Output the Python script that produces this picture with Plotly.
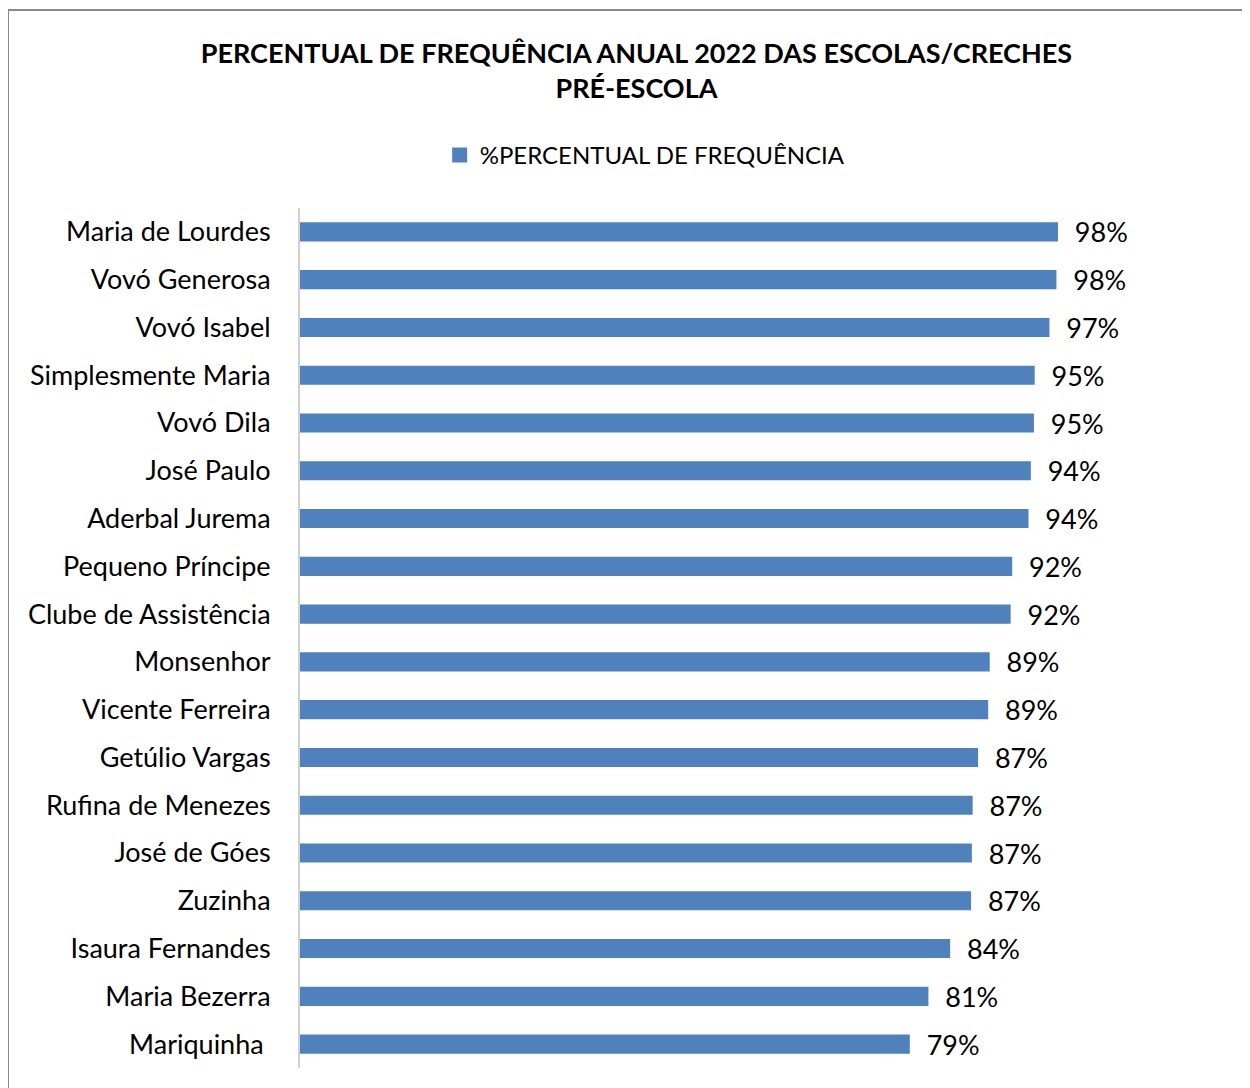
import plotly.graph_objects as go

# =========================
# DATA
# =========================
schools = [
    "Maria de Lourdes", "Vovó Generosa", "Vovó Isabel", "Simplesmente Maria",
    "Vovó Dila", "José Paulo", "Aderbal Jurema", "Pequeno Príncipe",
    "Clube de Assistência", "Monsenhor", "Vicente Ferreira", "Getúlio Vargas",
    "Rufina de Menezes", "José de Góes", "Zuzinha", "Isaura Fernandes",
    "Maria Bezerra", "Mariquinha ",
]
frequency = [
    0.977, 0.975, 0.966, 0.947, 0.946, 0.942, 0.939, 0.918, 0.916,
    0.889, 0.887, 0.874, 0.867, 0.866, 0.865, 0.838, 0.810, 0.786,
]
series_name = "%PERCENTUAL DE FREQUÊNCIA"
title_text = "<b>PERCENTUAL DE FREQUÊNCIA ANUAL 2022 DAS ESCOLAS/CRECHES<br>PRÉ-ESCOLA</b>"

# =========================
# STYLE
# =========================
FONT = "Lato, 'Open Sans', Arial"
BAR_COLOR = "#4F81BD"
W, H = 1242, 1080
M = dict(l=292, r=19, t=200, b=20)

fig = go.Figure()

fig.add_trace(go.Bar(
    y=schools,
    x=frequency,
    orientation="h",
    name=series_name,
    marker=dict(color=BAR_COLOR, line=dict(width=0)),
    texttemplate="\u00a0\u00a0%{x:.0%}",
    textposition="outside",
    constraintext="none",
    textfont=dict(family=FONT, size=27, color="black"),
    cliponaxis=False,
    showlegend=False,
))

# legend entry with a bigger square symbol
fig.add_trace(go.Scatter(
    x=[None], y=[None],
    mode="markers",
    name=series_name,
    marker=dict(symbol="square", size=15, color=BAR_COLOR),
    showlegend=True,
))

fig.update_layout(
    width=W,
    height=H,
    margin=M,
    paper_bgcolor="white",
    plot_bgcolor="white",
    font=dict(family=FONT, size=27, color="black"),
    title=dict(
        text=title_text,
        x=0.506, xref="container", xanchor="center",
        y=1 - 55 / H, yref="container", yanchor="top",
        font=dict(family=FONT, size=27, color="black"),
    ),
    legend=dict(
        orientation="h",
        x=0.513, xref="container", xanchor="center",
        y=1 - 125 / H, yref="container", yanchor="top",
        font=dict(family=FONT, size=24, color="black"),
        itemwidth=30,
    ),
    bargap=0.6,
    xaxis=dict(
        range=[0, 1.2],
        visible=False,
        showgrid=False,
        zeroline=False,
    ),
    yaxis=dict(
        autorange="reversed",
        showline=True,
        linecolor="#D0D0D0",
        linewidth=2,
        ticks="",
        ticklabelstandoff=22,
        showgrid=False,
    ),
    shapes=[dict(
        type="rect",
        xref="paper", yref="paper",
        x0=-M["l"] / (W - M["l"] - M["r"]),
        x1=1 + (M["r"] - 1) / (W - M["l"] - M["r"]),
        y0=-(M["b"] + 20) / (H - M["t"] - M["b"]),
        y1=1 + (M["t"] - 2) / (H - M["t"] - M["b"]),
        line=dict(color="#898989", width=2),
    )],
)

fig.write_html("out.html")
